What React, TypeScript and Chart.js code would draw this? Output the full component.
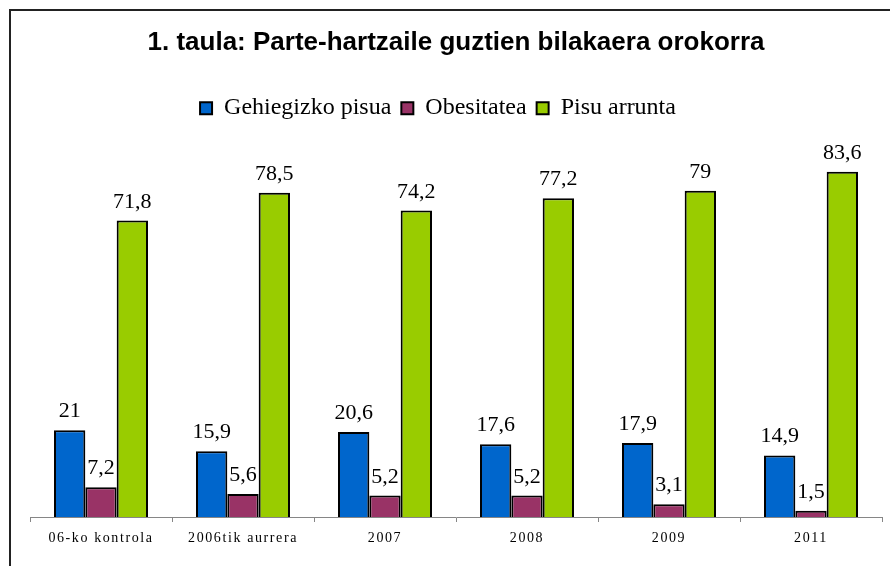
import React, { useEffect, useRef } from "react";
import { Chart, registerables } from "chart.js";

Chart.register(...registerables);

const categories = ["06-ko kontrola", "2006tik aurrera", "2007", "2008", "2009", "2011"];
const gehiegizkoPisua = [21, 15.9, 20.6, 17.6, 17.9, 14.9];
const obesitatea = [7.2, 5.6, 5.2, 5.2, 3.1, 1.5];
const pisuArrunta = [71.8, 78.5, 74.2, 77.2, 79, 83.6];
const seriesNames = ["Gehiegizko pisua", "Obesitatea", "Pisu arrunta"];
const titleText = "1. taula: Parte-hartzaile guztien bilakaera orokorra";

const fmt = (v: number) => String(v).replace(".", ",");

const frame = {
  id: "frame",
  beforeDraw(chart: any) {
    const { ctx } = chart;
    ctx.save();
    ctx.fillStyle = "#ffffff";
    ctx.fillRect(0, 0, chart.width, chart.height);
    ctx.strokeStyle = "#222222";
    ctx.lineWidth = 2;
    ctx.strokeRect(10, 10, 1000, 1000);
    ctx.restore();
  },
};

const legendShift = {
  id: "legendShift",
  afterLayout(chart: any) {
    if (chart.legend) {
      chart.legend.left -= 18;
      chart.legend.right -= 18;
      chart.legend.top += 3;
      chart.legend.bottom += 3;
    }
  },
};

const valueLabels = {
  id: "valueLabels",
  afterDatasetsDraw(chart: any) {
    const { ctx } = chart;
    ctx.save();
    ctx.fillStyle = "#000000";
    ctx.font = '22px "Liberation Serif"';
    ctx.textAlign = "center";
    ctx.textBaseline = "alphabetic";
    chart.data.datasets.forEach((ds: any, di: number) => {
      const meta = chart.getDatasetMeta(di);
      meta.data.forEach((el: any, i: number) => {
        ctx.fillText(fmt(ds.data[i]), el.x, el.y - 13);
      });
    });
    ctx.restore();
  },
};

const catLabels = {
  id: "catLabels",
  afterDraw(chart: any) {
    const { ctx } = chart;
    const xs = chart.scales.x;
    ctx.save();
    ctx.fillStyle = "#000000";
    ctx.font = '14px "Liberation Serif"';
    (ctx as any).letterSpacing = "1.6px";
    ctx.textAlign = "center";
    ctx.textBaseline = "middle";
    categories.forEach((c, i) => {
      ctx.fillText(c, xs.getPixelForValue(i), 538);
    });
    ctx.restore();
  },
};

export default function App() {
  const ref = useRef<HTMLCanvasElement>(null);
  useEffect(() => {
    if (!ref.current) return;
    const chart = new Chart(ref.current, {
      type: "bar",
      data: {
        labels: categories,
        datasets: [
          { label: seriesNames[0], data: gehiegizkoPisua, backgroundColor: "#0066CC", borderColor: "#000000", borderWidth: 2 },
          { label: seriesNames[1], data: obesitatea, backgroundColor: "#993366", borderColor: "#000000", borderWidth: 2 },
          { label: seriesNames[2], data: pisuArrunta, backgroundColor: "#99CC00", borderColor: "#000000", borderWidth: 2 },
        ],
      },
      options: {
        responsive: false,
        animation: false,
        devicePixelRatio: 1,
        layout: { padding: { left: 30, right: 8, top: 0, bottom: 44 } },
        datasets: { bar: { categoryPercentage: 0.662, barPercentage: 1 } },
        plugins: {
          tooltip: { enabled: false },
          title: {
            display: true,
            text: titleText,
            color: "#000000",
            font: { family: '"Liberation Sans", Arial, sans-serif', size: 26, weight: "bold" },
            padding: { top: 27, bottom: 25 },
          },
          legend: {
            display: true,
            position: "top",
            labels: {
              color: "#000000",
              font: { family: '"Liberation Serif", serif', size: 24 },
              boxWidth: 12,
              boxHeight: 12,
              padding: 10,
            },
          },
        },
        scales: {
          x: {
            grid: {
              display: true,
              drawOnChartArea: false,
              drawTicks: true,
              tickLength: 5,
              color: "#868686",
              offset: true,
            },
            border: { display: true, color: "#868686", width: 1 },
            ticks: { display: false },
          },
          y: { display: false, min: 0, max: 94.4 },
        },
      },
      plugins: [frame, legendShift, valueLabels, catLabels],
    });
    return () => chart.destroy();
  }, []);
  return (
    <div style={{ position: "absolute", left: 0, top: 0, width: 890, height: 566 }}>
      <canvas ref={ref} width={890} height={566} style={{ display: "block" }} />
    </div>
  );
}
